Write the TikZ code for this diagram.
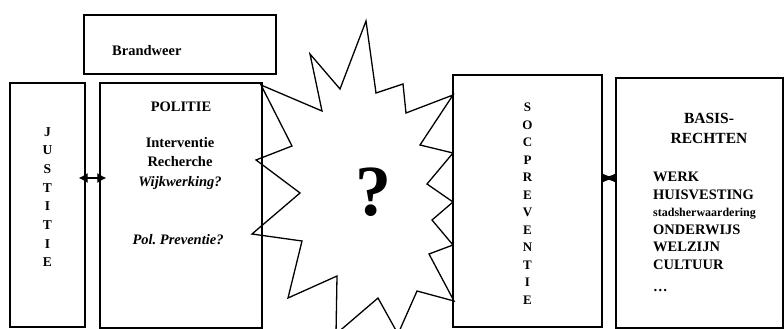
\documentclass[tikz,border=0pt]{standalone}
\usepackage{fontspec}
\setmainfont{Liberation Serif}
\usetikzlibrary{positioning, arrows.meta}

\begin{document}
\begin{tikzpicture}[x=1pt, y=-1pt,
        box/.style={draw, line width=1.3pt, inner sep=0pt},
        txt/.style={inner sep=0pt, align=center, font=\fontsize{14.5}{19.5}\selectfont\bfseries},
        vert/.style={inner sep=0pt, align=center, font=\fontsize{13.5}{18.7}\selectfont\bfseries},
        link/.style={line width=1.2pt, {Latex[length=9pt,width=10pt]}-{Latex[length=9pt,width=10pt]}}
    ]
    \useasboundingbox (0,0) rectangle (784,329);
    \clip (0,0) rectangle (784,329);

    % boxes
    \node[box, minimum width=192pt, minimum height=59pt] (brand) at (180,44.5) {};
    \node[box, minimum width=75pt, minimum height=244pt] (just) at (47.5,205) {};
    \node[box, minimum width=162pt, minimum height=245pt] (pol) at (181,205.5) {};
    \node[box, minimum width=149pt, minimum height=252pt] (soc) at (527.5,201) {};
    \node[box, minimum width=167pt, minimum height=250pt] (basis) at (699.5,203) {};

    % texts
    \node[txt, anchor=west] (brandtxt) at (112,51) {Brandweer};
    \node[txt] (poltxt) at (181,107) {POLITIE};
    \node[txt, anchor=north] (taken) at (180,137)
        {Interventie\\Recherche\\\textit{Wijkwerking?}};
    \node[txt] (prevtxt) at (178,240) {\textit{Pol.\ Preventie?}};
    \node[vert, anchor=north] (justtxt) at (47.5,127)
        {J\\U\\S\\T\\I\\T\\I\\E};
    \node[vert, anchor=north, font=\fontsize{13}{17.5}\selectfont\bfseries] (soctxt) at (527.5,103)
        {S\\O\\C\\P\\R\\E\\V\\E\\N\\T\\I\\E};
    \node[txt, font=\fontsize{15.5}{20}\selectfont\bfseries] (basistxt) at (709,128)
        {BASIS-\\RECHTEN};
    \node[txt, anchor=north west, align=left, font=\fontsize{14.5}{17.5}\selectfont\bfseries] (rechten) at (653,172)
        {WERK\\HUISVESTING\\{\fontsize{12}{13}\selectfont stadsherwaardering}\\ONDERWIJS\\WELZIJN\\CULTUUR\\[5pt]\ldots};

    % starburst
    \draw[line width=1.3pt, line join=miter]
        (261,85) -- (292,146) -- (256,160) -- (300,193) -- (252,234) -- (302,241)
        -- (288,298) -- (337,276) -- (336,334) -- (378,298) -- (398,334) -- (417,291)
        -- (454,301) -- (429,254) -- (453,245) -- (432,220) -- (453,202) -- (427,184)
        -- (453,153) -- (420,145) -- (453,95) -- (406,113) -- (403,84) -- (376,93)
        -- (366,21) -- (340,89) -- (310,54) -- (322,111) -- cycle;
    \node[font=\fontsize{72}{72}\selectfont\bfseries] (vraag) at (373,192) {?};

    % connectors
    \coordinate (ylink) at (0,178);
    \draw[link, shorten <=-7pt, shorten >=-7pt] (just.east |- ylink) -- (pol.west |- ylink);
    \draw[link, {Latex[length=13pt,width=9pt]}-{Latex[length=13pt,width=9pt]}] (soc.east |- ylink) -- (basis.west |- ylink);
\end{tikzpicture}
\end{document}
